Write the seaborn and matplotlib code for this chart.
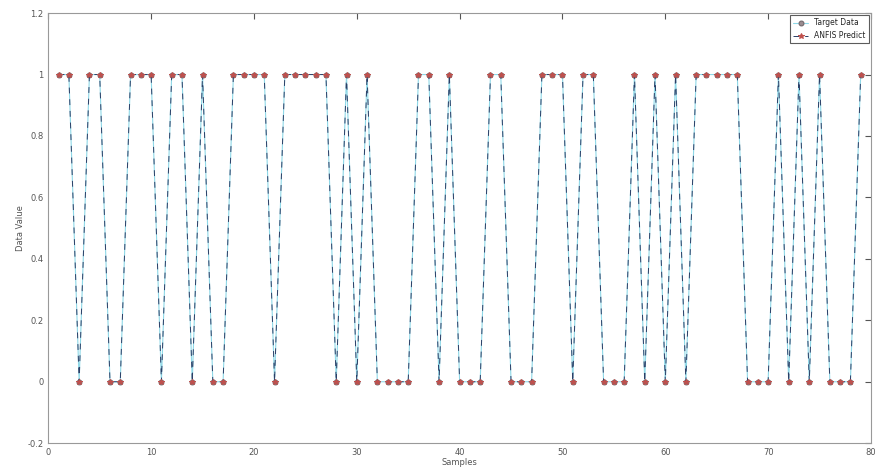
import numpy as np
import pandas as pd
import matplotlib
matplotlib.use("Agg")
import matplotlib.pyplot as plt
import seaborn as sns

# ==================================================
# DATA
# ==================================================

samples = list(range(1, 80))

target_values = [
    1, 1, 0, 1, 1, 0, 0, 1, 1, 1,
    0, 1, 1, 0, 1, 0, 0, 1, 1, 1,
    1, 0, 1, 1, 1, 1, 1, 0, 1, 0,
    1, 0, 0, 0, 0, 1, 1, 0, 1, 0,
    0, 0, 1, 1, 0, 0, 0, 1, 1, 1,
    0, 1, 1, 0, 0, 0, 1, 0, 1, 0,
    1, 0, 1, 1, 1, 1, 1, 0, 0, 0,
    1, 0, 1, 0, 1, 0, 0, 0, 1
]

predicted_values = list(target_values)

x_ticks = [0, 10, 20, 30, 40, 50, 60, 70, 80]
y_ticks = [-0.2, 0, 0.2, 0.4, 0.6, 0.8, 1, 1.2]
y_tick_labels = ["-0.2", "0", "0.2", "0.4", "0.6", "0.8", "1", "1.2"]

df = pd.DataFrame({
    "Samples": samples,
    "Target": target_values,
    "Predict": predicted_values
})

# ==================================================
# PLOT
# ==================================================

sns.set_style("white")
plt.rcParams["font.family"] = ["DejaVu Sans"]

fig = plt.figure(figsize=(8.78, 4.68), dpi=100)
ax = fig.add_axes([0.055, 0.053, 0.937, 0.919])

sns.lineplot(
    data=df,
    x="Samples",
    y="Target",
    ax=ax,
    color="#8fd9e8",
    linewidth=0.8,
    marker="o",
    markersize=3.5,
    markerfacecolor="#9a8c90",
    markeredgecolor="#6f6468",
    label="Target Data"
)

sns.lineplot(
    data=df,
    x="Samples",
    y="Predict",
    ax=ax,
    color="#2c3e66",
    linewidth=0.7,
    linestyle=(0, (6, 6)),
    marker="*",
    markersize=4,
    markeredgecolor="#c0504d",
    markerfacecolor="#c0504d",
    label="ANFIS Predict"
)

ax.set_xlim(0, 80)
ax.set_ylim(-0.2, 1.2)
ax.set_xticks(x_ticks)
ax.set_yticks(y_ticks)
ax.set_yticklabels(y_tick_labels)

ax.tick_params(
    direction="in",
    length=4,
    labelsize=6,
    colors="#555555",
    top=True,
    right=True
)

for spine in ax.spines.values():
    spine.set_color("#999999")
    spine.set_linewidth(0.8)

ax.set_xlabel("Samples", fontsize=6, color="#555555", labelpad=1)
ax.set_ylabel("Data Value", fontsize=6, color="#555555", labelpad=2)

leg = ax.legend(
    loc="upper right",
    fontsize=5.5,
    frameon=True,
    fancybox=False,
    borderaxespad=0.3,
    handlelength=2.0
)
leg.get_frame().set_edgecolor("#333333")
leg.get_frame().set_linewidth(0.8)

plt.savefig("out.png", dpi=100)
plt.close()
